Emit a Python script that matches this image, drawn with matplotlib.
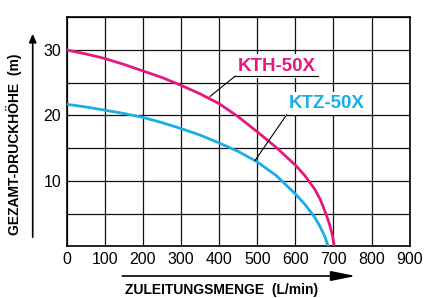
import matplotlib
matplotlib.use('Agg')
from matplotlib import pyplot as plt
import numpy as np

plt.rcParams['font.family'] = ['Liberation Sans', 'DejaVu Sans']

# Curve values (flow L/min, head m)
kth_flow = [0, 50, 100, 150, 200, 250, 300, 350, 400, 450, 500, 550, 600,
            625, 650, 665, 680, 690, 697, 702]
kth_head = [30.0, 29.4, 28.7, 27.8, 26.8, 25.8, 24.6, 23.3, 21.8, 19.8, 17.5, 15.1, 12.4,
            10.8, 8.8, 7.2, 5.0, 3.3, 1.7, 0]
ktz_flow = [0, 50, 100, 150, 200, 250, 300, 350, 400, 450, 500, 550, 600,
            625, 650, 665, 678, 686]
ktz_head = [21.7, 21.3, 20.8, 20.3, 19.7, 18.9, 18.0, 17.0, 15.8, 14.5, 12.9, 10.8, 8.0,
            6.4, 4.5, 3.0, 1.4, 0]

x_ticks = np.arange(0, 901, 100)
y_ticks = np.arange(0, 36, 5)
y_tick_labels = ['', '', '10', '', '20', '', '30', '']

magenta = '#e6177e'
cyan = '#19aee6'

fig = plt.figure(figsize=(4.24, 2.98), dpi=100)
ax = fig.add_axes([0.1573, 0.1735, 0.809, 0.7685])

ax.plot(kth_flow, kth_head, color=magenta, lw=2.0, zorder=3, solid_capstyle='butt')
ax.plot(ktz_flow, ktz_head, color=cyan, lw=2.0, zorder=3, solid_capstyle='butt')

ax.set_xlim(0, 900)
ax.set_ylim(0, 35)
ax.set_xticks(x_ticks)
ax.set_yticks(y_ticks)
ax.set_yticklabels(y_tick_labels)
ax.tick_params(length=0, labelsize=11.5, pad=4)
ax.grid(True, color='#111111', lw=0.9)
ax.set_axisbelow(True)
for s in ax.spines.values():
    s.set_linewidth(1.2)

# Curve labels with white backing, underline and leader line
ax.text(552, 27.55, 'KTH-50X', color=magenta, fontsize=13.5, fontweight='bold',
        ha='center', va='center', zorder=4,
        bbox=dict(facecolor='white', edgecolor='none', pad=2.5))
ax.plot([442, 660], [26.0, 26.0], color='black', lw=0.8, zorder=4)
ax.plot([442, 376], [26.0, 22.9], color='black', lw=0.8, zorder=4)

ax.text(682, 21.75, 'KTZ-50X', color=cyan, fontsize=13.5, fontweight='bold',
        ha='center', va='center', zorder=4,
        bbox=dict(facecolor='white', edgecolor='none', pad=2.5))
ax.plot([577, 790], [20.1, 20.1], color='black', lw=0.8, zorder=4)
ax.plot([577, 494], [20.1, 13.1], color='black', lw=0.8, zorder=4)

# Axis arrows and titles
fig.patches.append(matplotlib.patches.FancyArrowPatch(
    (32.7 / 424, 1 - 240 / 298), (32.7 / 424, 1 - 31 / 298), transform=fig.transFigure,
    arrowstyle='-|>,head_length=5,head_width=2.2', color='black', lw=1.2, mutation_scale=1))
fig.patches.append(matplotlib.patches.FancyArrowPatch(
    (119.5 / 424, 1 - 276 / 298), (358.5 / 424, 1 - 276 / 298), transform=fig.transFigure,
    arrowstyle='-|>,head_length=15,head_width=3', color='black', lw=1.2, mutation_scale=1))

fig.text(13.5 / 424, 1 - 144 / 298, 'GEZAMT-DRUCKHÖHE  (m)', rotation=90,
         fontsize=10, fontweight='bold', ha='center', va='center')
fig.text(222 / 424, 1 - 290 / 298, 'ZULEITUNGSMENGE  (L/min)',
         fontsize=10, fontweight='bold', ha='center', va='center')

fig.savefig('out.png', dpi=100)
